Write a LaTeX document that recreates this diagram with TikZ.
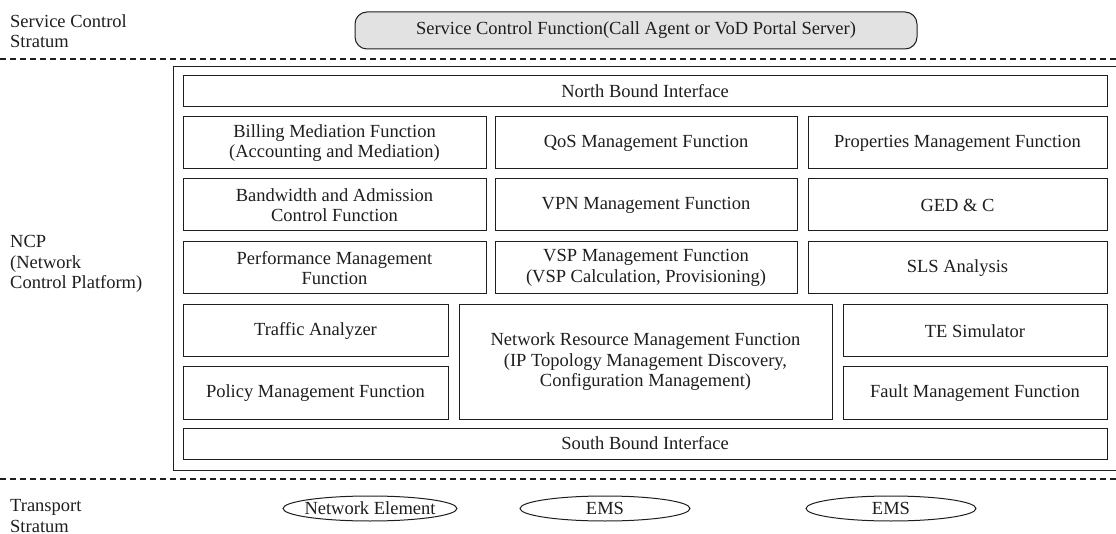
\documentclass[tikz,border=0pt]{standalone}
\usepackage{fontspec}
\setmainfont{Liberation Serif}
\usetikzlibrary{shapes.geometric}
\definecolor{ink}{HTML}{1E1E1E}
\definecolor{scfill}{HTML}{E2E2E2}
\begin{document}
\begin{tikzpicture}[x=1pt,y=-1pt,
  txt/.style={font=\fontsize{18.5}{20.5}\selectfont, text=ink},
  fbox/.style={txt, draw=ink, line width=1pt, rectangle, inner sep=0pt, align=center},
  scbox/.style={fbox, rounded corners=12pt, fill=scfill},
  elem/.style={txt, draw=ink, line width=1pt, ellipse, inner xsep=-4pt, inner ysep=0pt, minimum width=170pt, minimum height=25pt},
  sidelabel/.style={txt, anchor=west, align=left, inner sep=0pt},
  stratumline/.style={draw=ink, line width=1.3pt, dash pattern=on 6pt off 4pt}]
\useasboundingbox (0,0) rectangle (1116,534);

% side labels
\node[sidelabel] (lsc) at (10,31) {Service Control\\Stratum};
\node[sidelabel] (lncp) at (10,264) {NCP\\(Network\\Control Platform)};
\node[sidelabel] (ltr) at (10,516) {Transport\\Stratum};

% stratum separators
\coordinate (d1a) at (0,59);
\coordinate (d1b) at (1116,59);
\coordinate (d2a) at (0,479);
\coordinate (d2b) at (1116,479);
\draw[stratumline] (d1a) -- (d1b);
\draw[stratumline] (d2a) -- (d2b);

% service control function
\node[scbox, minimum width=562pt, minimum height=37pt] (scf) at (636,30.5)
  {Service Control Function(Call Agent or VoD Portal Server)};

% NCP outer frame (right side runs off the picture)
\coordinate (o1) at (1120,67);
\coordinate (o2) at (173,67);
\coordinate (o3) at (173,470);
\coordinate (o4) at (1120,470);
\draw[draw=ink, line width=1pt] (o1) -- (o2) -- (o3) -- (o4);

% interfaces
\node[fbox, minimum width=924pt, minimum height=31pt] (nbi) at (645,91.5) {North Bound Interface};
\node[fbox, minimum width=924pt, minimum height=31pt] (sbi) at (645,443.5) {South Bound Interface};

% row 1
\node[fbox, minimum width=303pt, minimum height=52pt] (bill) at (334.5,143) {Billing Mediation Function\\(Accounting and Mediation)};
\node[fbox, minimum width=302pt, minimum height=52pt] (qos) at (646,143) {QoS Management Function};
\node[fbox, minimum width=299pt, minimum height=52pt] (prop) at (957.5,143) {Properties Management Function};
% row 2
\node[fbox, minimum width=303pt, minimum height=52pt] (bw) at (334.5,205) {Bandwidth and Admission\\Control Function};
\node[fbox, minimum width=302pt, minimum height=52pt] (vpn) at (646,205) {VPN Management Function};
\node[fbox, minimum width=299pt, minimum height=52pt] (ged) at (957.5,205) {GED \& C};
% row 3
\node[fbox, minimum width=303pt, minimum height=52pt] (perf) at (334.5,268) {Performance Management\\Function};
\node[fbox, minimum width=302pt, minimum height=52pt] (vsp) at (646,268) {VSP Management Function\\(VSP Calculation, Provisioning)};
\node[fbox, minimum width=299pt, minimum height=52pt] (sls) at (957.5,268) {SLS Analysis};
% rows 4-5
\node[fbox, minimum width=265pt, minimum height=52pt] (traf) at (315.5,331) {Traffic Analyzer};
\node[fbox, minimum width=265pt, minimum height=52pt] (pol) at (315.5,393) {Policy Management Function};
\node[fbox, minimum width=373pt, minimum height=114pt] (nrm) at (645.5,362) {Network Resource Management Function\\(IP Topology Management Discovery,\\Configuration Management)};
\node[fbox, minimum width=264pt, minimum height=52pt] (te) at (975,331) {TE Simulator};
\node[fbox, minimum width=264pt, minimum height=52pt] (fault) at (975,393) {Fault Management Function};

% transport elements
\node[elem] (ne) at (370,508.5) {Network Element};
\node[elem] (ems1) at (605,508.5) {EMS};
\node[elem] (ems2) at (891,508.5) {EMS};
\end{tikzpicture}
\end{document}
